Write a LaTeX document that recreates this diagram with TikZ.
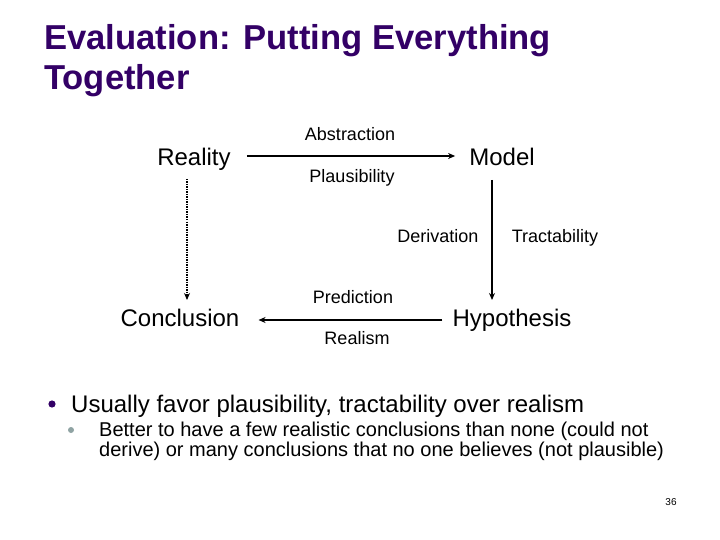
\documentclass[tikz,border=0pt]{standalone}
\usepackage{fontspec}
\setmainfont{Liberation Sans}
\usetikzlibrary{arrows.meta}
\definecolor{titlepurple}{HTML}{330066}
\definecolor{subbullet}{HTML}{8FA3A3}
\begin{document}
\begin{tikzpicture}[x=1pt,y=-1pt,
  every node/.style={inner sep=0pt},
  big/.style={font=\fontsize{24}{28}\selectfont, anchor=base},
  lab/.style={font=\fontsize{18}{21}\selectfont, anchor=base},
  subtext/.style={anchor=base west,font=\fontsize{20}{20}\selectfont},
  arr/.style={line width=1.8pt,-{Stealth[length=7pt,width=6pt]}},
  dotarr/.style={line width=1.5pt,dash pattern=on 1.5pt off 1pt,-{Stealth[length=7pt,width=6pt]}}]
\useasboundingbox[fill=white] (0,0) rectangle (720,540);
% title
\node[anchor=base west,text=titlepurple,font=\fontsize{34.6}{40}\selectfont\bfseries] (title1) at (44,50) {Evaluation: Putting Everything};
\node[anchor=base west,text=titlepurple,font=\fontsize{34.6}{40}\selectfont\bfseries] (title2) at (44,90) {Together};
% main nodes
\node[big] (Reality) at (194,166) {Reality};
\node[big] (Model) at (502,166) {Model};
\node[big] (Conclusion) at (180,326) {Conclusion};
\node[big] (Hypothesis) at (512,326) {Hypothesis};
% labels
\node[lab] (abs) at (350,141) {Abstraction};
\node[lab] (pla) at (352,183) {Plausibility};
\node[lab] (der) at (438,243) {Derivation};
\node[lab] (tra) at (555,243) {Tractability};
\node[lab] (pre) at (353,303) {Prediction};
\node[lab] (rea) at (357,344) {Realism};
% connectors
\draw[arr] ([xshift=16pt,yshift=10pt]Reality.base east) -- ([xshift=-14pt,yshift=10pt]Model.base west);
\draw[arr] ([xshift=-10pt,yshift=-14pt]Model.base) -- ([xshift=-20pt,yshift=26pt]Hypothesis.base);
\draw[arr] ([xshift=-10pt,yshift=6pt]Hypothesis.base west) -- ([xshift=19pt,yshift=6pt]Conclusion.base east);
\draw[dotarr] ([xshift=-7pt,yshift=-13pt]Reality.base) -- ([xshift=7pt,yshift=26pt]Conclusion.base);
% bullets
\fill[titlepurple] (52,404) circle (3.6pt);
\node[anchor=base west,font=\fontsize{24}{28}\selectfont] (b1) at (71,412) {Usually favor plausibility, tractability over realism};
\fill[subbullet] (71,430) circle (3pt);
\node[subtext] (b2a) at (99,436) {Better to have a few realistic conclusions than none (could not};
\node[subtext] (b2b) at (99,456) {derive) or many conclusions that no one believes (not plausible)};
\node[anchor=base,font=\fontsize{10}{12}\selectfont] (pg) at (671,505) {36};
\end{tikzpicture}
\end{document}
